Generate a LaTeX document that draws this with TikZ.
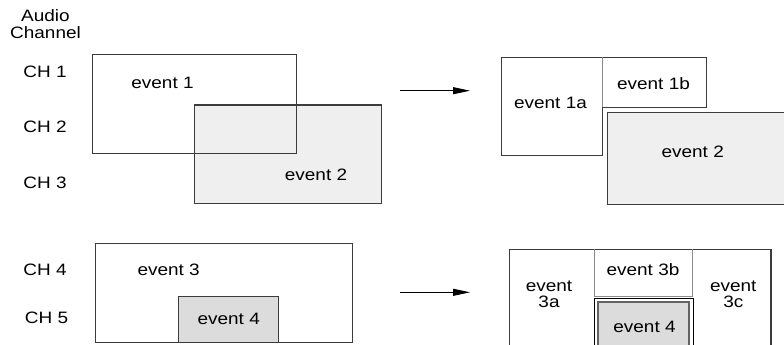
\documentclass[tikz,border=0pt]{standalone}
\usepackage{fontspec}
\setmainfont[FakeStretch=1.15]{Liberation Sans}
\usetikzlibrary{arrows.meta}
\definecolor{boxline}{RGB}{60,60,60}
\definecolor{splitgray}{RGB}{140,140,140}
\definecolor{lightfill}{RGB}{239,239,239}
\definecolor{midfill}{RGB}{220,220,220}

\begin{document}
\begin{tikzpicture}[x=1pt,y=-1pt,
  every node/.style={font=\fontsize{16.5}{16.5}\selectfont,inner sep=0pt,align=center},
  evbox/.style={draw=boxline,line width=1.4pt},
  split/.style={draw=splitgray,line width=0.8pt},
  conv/.style={line width=0.9pt,-{Triangle[length=17pt,width=7pt]}}]
\clip (0,0) rectangle (784,345);
% channel axis
\node (head) at (45.5,24) {Audio\\Channel};
\node (ch1) at (45,71.7) {CH 1};
\node (ch2) at (45,126.7) {CH 2};
\node (ch3) at (45,182.7) {CH 3};
\node (ch4) at (45,270) {CH 4};
\node (ch5) at (46.5,318.3) {CH 5};
% upper group, before
\draw[evbox,fill=lightfill] (194.3,105) rectangle (381.7,203.3);
\draw[evbox] (92.7,54.3) rectangle (296.7,153.3);
\node (ev1) at (162.5,83.3) {event 1};
\node (ev2) at (316,175) {event 2};
% upper group, after
\draw[evbox] (501.7,57.3) -- (706.7,57.3) -- (706.7,107.2) -- (602.3,107.2)
  -- (602.3,155.7) -- (501.7,155.7) -- cycle;
\draw[split] (602.3,57.3) -- (602.3,107.2);
\draw[evbox,fill=lightfill] (607.7,112.2) rectangle (800,204.5);
\node (ev1a) at (550.5,103.3) {event 1a};
\node (ev1b) at (653.5,83.3) {event 1b};
\node (ev2r) at (692.7,151.7) {event 2};
% lower group, before
\draw[evbox] (95.7,243.3) rectangle (352.7,342.7);
\draw[evbox,fill=midfill] (178.3,296.7) rectangle (278.3,342.7);
\node (ev3) at (168.7,270) {event 3};
\node (ev4) at (228.7,319.3) {event 4};
% lower group, after
\draw[evbox] (509.3,360) -- (509.3,249.3) -- (771,249.3) -- (771,360);
\draw[split] (594.3,249.3) -- (594.3,296.3) -- (692.7,296.3) -- (692.7,249.3);
\draw[draw=black,line width=0.8pt] (594.3,360) -- (594.3,298) -- (693.3,298) -- (693.3,360);
\draw[draw=boxline!80,line width=2.6pt,fill=midfill] (598,360) -- (598,302) -- (689,302) -- (689,360);
\node (ev3a) at (549,294.3) {event\\3a};
\node (ev3b) at (643,270) {event 3b};
\node (ev3c) at (733.3,294.3) {event\\3c};
\node (ev4r) at (644.5,326.7) {event 4};
% conversion arrows
\coordinate (upIn) at (400,90.7);
\coordinate (upOut) at (470,90.7);
\coordinate (lowIn) at (400,292.3);
\coordinate (lowOut) at (470,292.3);
\draw[conv] (upIn) -- (upOut);
\draw[conv] (lowIn) -- (lowOut);
\end{tikzpicture}
\end{document}
